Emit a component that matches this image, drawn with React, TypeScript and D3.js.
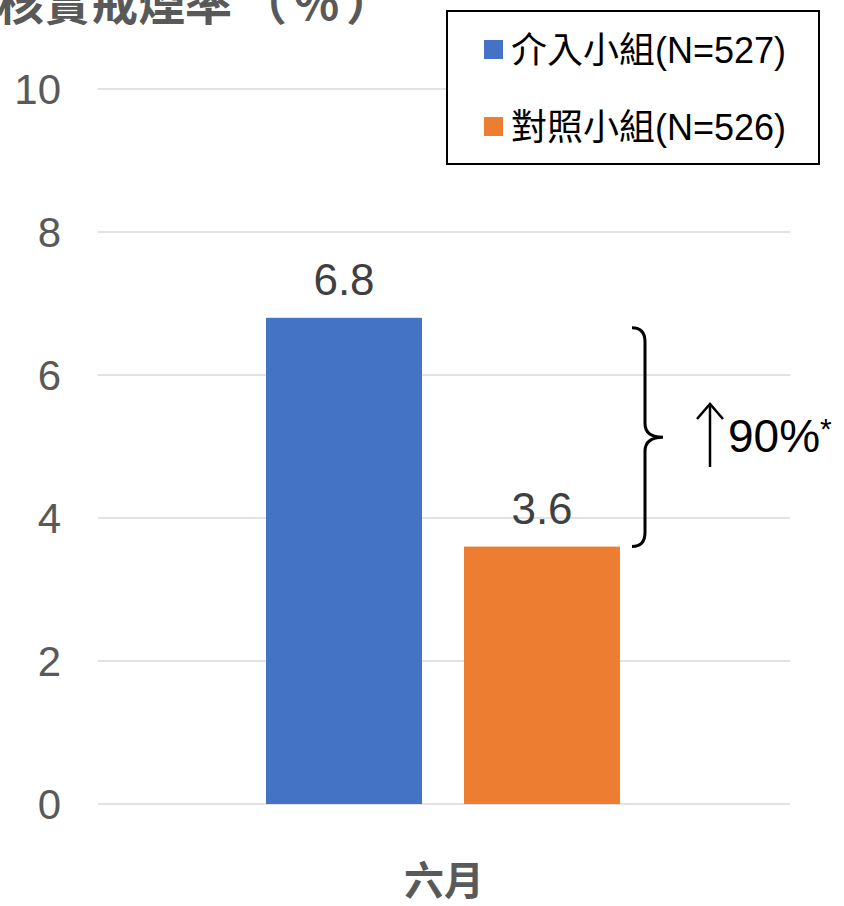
import React from "react";
import * as d3 from "d3";

// data
const categories = ["六月"];
const seriesNames = ["介入小組(N=527)", "對照小組(N=526)"];
const seriesValues = [[6.8], [3.6]];
const seriesColors = ["#4472C4", "#ED7D31"];
const yTicks = [0, 2, 4, 6, 8, 10];
const titleText = "核實戒煙率";
const titleUnit = "（％）";
const changeText = "90%";

const W = 844;
const H = 906;
const FONT = "'Liberation Sans', Arial, 'Noto Sans CJK TC', sans-serif";
const CJK = "'Noto Sans CJK TC', 'Liberation Sans', sans-serif";

export default function App() {
  const left = 98;
  const right = 790;
  const top = 89;
  const bottom = 804;

  const y = d3.scaleLinear().domain([0, 10]).range([bottom, top]);
  const x0 = d3.scaleBand().domain(categories).range([left, right]).paddingInner(0).paddingOuter(0);
  // the two bars inside the group
  const x1 = d3
    .scaleBand()
    .domain(seriesNames)
    .range([266 - left, 620 - left])
    .paddingInner(42 / 198)
    .paddingOuter(0);

  const cat = categories[0];
  const blueTop = y(seriesValues[0][0]);
  const orangeTop = y(seriesValues[1][0]);
  const orangeRight = (x0(cat) || 0) + (x1(seriesNames[1]) || 0) + x1.bandwidth();

  // brace spanning the two bar tops
  const bx = orangeRight + 12;
  const bt = blueTop + 10;
  const bb = orangeTop;
  const bm = (bt + bb) / 2;
  const bw = 13;
  const brace = [
    `M${bx},${bt}`,
    `Q${bx + bw},${bt} ${bx + bw},${bt + 14}`,
    `L${bx + bw},${bm - 14}`,
    `Q${bx + bw},${bm} ${bx + bw + 18},${bm}`,
    `Q${bx + bw},${bm} ${bx + bw},${bm + 14}`,
    `L${bx + bw},${bb - 14}`,
    `Q${bx + bw},${bb} ${bx},${bb}`,
  ].join(" ");

  const ax = 710;

  return (
    <svg
      width={W}
      height={H}
      style={{ position: "absolute", left: 0, top: 0, background: "#fff" }}
      fontFamily={FONT}
    >
      {/* grid + y ticks */}
      {yTicks.map((t) => (
        <g key={t}>
          <line x1={left} x2={right} y1={y(t)} y2={y(t)} stroke="#D9D9D9" strokeWidth={1.5} />
          <text x={61} y={y(t) + 15} textAnchor="end" fontSize={42} fill="#595959">
            {t}
          </text>
        </g>
      ))}

      {/* title, cut at the top like the original */}
      <text x={-3} y={20} fontSize={47} fontWeight="bold" fill="#595959" fontFamily={CJK}>
        {titleText}
        <tspan dx={8} letterSpacing={6}>{titleUnit}</tspan>
      </text>

      {/* bars */}
      {categories.map((c, ci) =>
        seriesNames.map((s, si) => {
          const bxs = (x0(c) || 0) + (x1(s) || 0);
          const v = seriesValues[si][ci];
          return (
            <g key={s}>
              <rect x={bxs} y={y(v)} width={x1.bandwidth()} height={y(0) - y(v)} fill={seriesColors[si]} />
              <text x={bxs + x1.bandwidth() / 2} y={y(v) - 23} textAnchor="middle" fontSize={44} fill="#404040">
                {v.toFixed(1)}
              </text>
            </g>
          );
        })
      )}

      {/* x label */}
      {categories.map((c) => (
        <text
          key={c}
          x={(x0(c) || 0) + x0.bandwidth() / 2}
          y={895}
          textAnchor="middle"
          fontSize={40}
          fontWeight="bold"
          fill="#595959"
          fontFamily={CJK}
        >
          {c}
        </text>
      ))}

      {/* brace and change annotation */}
      <path d={brace} fill="none" stroke="#000" strokeWidth={3} />
      <line x1={ax} x2={ax} y1={405} y2={467} stroke="#000" strokeWidth={2.5} />
      <path d={`M${ax - 13},${419} L${ax},${404} L${ax + 13},${419}`} fill="none" stroke="#000" strokeWidth={2.5} />
      <text x={728} y={452} fontSize={46} fill="#000">
        {changeText}
        <tspan fontSize={30} dy={-13}>*</tspan>
      </text>

      {/* legend */}
      <rect x={447} y={11} width={372} height={153} fill="#fff" stroke="#000" strokeWidth={2} />
      {seriesNames.map((s, i) => (
        <g key={s} transform={`translate(0, ${i * 77})`}>
          <rect x={484} y={40} width={19} height={19} fill={seriesColors[i]} />
          <text x={511} y={63} fontSize={36} fill="#000" fontFamily={CJK}>
            {s.slice(0, 4)}
            <tspan fontFamily="'Liberation Sans', Arial, sans-serif">{s.slice(4)}</tspan>
          </text>
        </g>
      ))}
    </svg>
  );
}
